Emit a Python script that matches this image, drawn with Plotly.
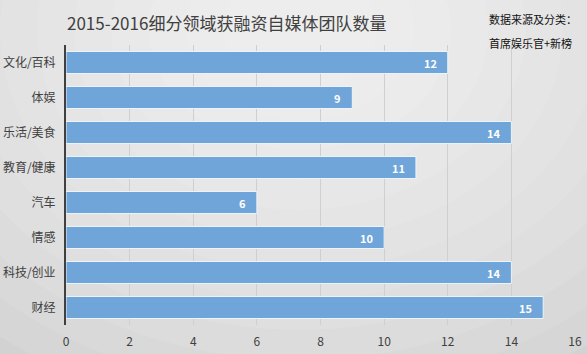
import plotly.graph_objects as go

categories = ["文化/百科", "体娱", "乐活/美食", "教育/健康", "汽车", "情感", "科技/创业", "财经"]
values = [12, 9, 14, 11, 6, 10, 14, 15]
x_ticks = [0, 2, 4, 6, 8, 10, 12, 14, 16]

FONT = "Noto Sans CJK SC"

fig = go.Figure()
fig.add_trace(go.Bar(
    y=categories, x=values, orientation="h",
    marker=dict(color="#6fa5d8", line=dict(color="#eef4fb", width=1)),
    hoverinfo="skip",
))

W, H = 587, 354
ML, MR, MT, MB = 66, 12, 45, 29
pw, ph = W - ML - MR, H - MT - MB
def px2paper(x, y):
    return (x - ML) / pw, (H - MB - y) / ph

shapes = []
steps = 14
for i in range(steps):
    f = 1 - i / steps
    rx, ry = 520 * f + 40, 420 * f + 30
    cx, cy = 300, 30
    x0, y0 = px2paper(cx - rx, cy - ry)
    x1, y1 = px2paper(cx + rx, cy + ry)
    shapes.append(dict(type="circle", xref="paper", yref="paper", x0=x0, x1=x1, y0=y1, y1=y0,
                       fillcolor="white", opacity=0.09, line=dict(width=0), layer="below"))

annotations = [
    dict(text="<b>%d</b>" % v, x=v, y=c, xref="x", yref="y", xanchor="right", yanchor="middle",
         xshift=-9, showarrow=False, font=dict(size=11, color="white", family=FONT))
    for c, v in zip(categories, values)
]
annotations += [
    dict(text="2015-2016细分领域获融资自媒体团队数量", xref="paper", yref="paper",
         x=(65 - ML) / pw, y=(H - MB - 22) / ph, xanchor="left", yanchor="middle",
         showarrow=False, font=dict(size=17, color="#404040", family=FONT)),
    dict(text="数据来源及分类：", xref="paper", yref="paper",
         x=(487 - ML) / pw, y=(H - MB - 19) / ph, xanchor="left", yanchor="middle",
         showarrow=False, font=dict(size=11, color="#111111", family=FONT)),
    dict(text="首席娱乐官+新榜", xref="paper", yref="paper",
         x=(487 - ML) / pw, y=(H - MB - 43) / ph, xanchor="left", yanchor="middle",
         showarrow=False, font=dict(size=11, color="#111111", family=FONT)),
]

fig.update_layout(
    width=W, height=H,
    margin=dict(l=ML, r=MR, t=MT, b=MB, autoexpand=False),
    paper_bgcolor="#cacaca", plot_bgcolor="rgba(0,0,0,0)",
    shapes=shapes,
    bargap=0.37,
    showlegend=False,
    font=dict(family=FONT, color="#404040"),
    xaxis=dict(range=[0, 16], tickvals=x_ticks, showgrid=True, gridcolor="#cfcfcf", gridwidth=1,
               zeroline=False, showline=False, tickfont=dict(size=12, color="#404040"),
               ticks="", ticklabelstandoff=8, automargin=False, fixedrange=True),
    yaxis=dict(categoryorder="array", categoryarray=categories[::-1], showgrid=False,
               showline=True, linecolor="#404040", linewidth=2, ticks="",
               tickfont=dict(size=12, color="#404040"), ticklabelstandoff=6, automargin=False),
    annotations=annotations,
)

fig.write_html("out.html")
